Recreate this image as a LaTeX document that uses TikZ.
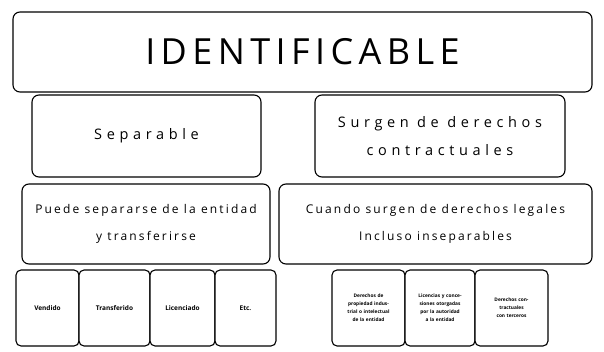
\documentclass[tikz,border=0pt]{standalone}
\usepackage{fontspec}
\setmainfont{Open Sans}
\newfontfamily\spacedtitle[LetterSpace=15]{Open Sans}
\newfontfamily\spacedmid[LetterSpace=32]{Open Sans}
\newfontfamily\spacedlow[LetterSpace=18]{Open Sans}
\begin{document}
\begin{tikzpicture}[x=1pt,y=-1pt,
  card/.style={draw=black, line width=1.1pt, rounded corners=7pt, fill=white,
    align=center, inner sep=2pt, text=black},
  title/.style={card, font=\spacedtitle\fontsize{36}{40}\selectfont},
  mid/.style={card, font=\spacedmid\fontsize{14.5}{28}\selectfont},
  low/.style={card, font=\spacedlow\fontsize{12}{27}\selectfont},
  leaf/.style={card, font=\bfseries\fontsize{6.5}{7.5}\selectfont, rounded corners=5pt,
    minimum height=76pt},
  tiny/.style={card, font=\bfseries\fontsize{4.8}{8}\selectfont, rounded corners=5pt,
    text width=46pt, minimum height=76pt}]
\useasboundingbox (0,0) rectangle (604,352);
\fill[white] (0,0) rectangle (604,352);

% top level
\node[title, minimum width=579pt, minimum height=80pt] (ident) at (302.5,52) {IDENTIFICABLE};

% criteria
\node[mid, minimum width=229pt, minimum height=82pt] (sep) at (146.5,136) {Separable};
\node[mid, minimum width=250pt, minimum height=82pt] (der) at (440,136)
  {Surgen de derechos\\contractuales};

% details
\node[low, minimum width=248pt, minimum height=80pt] (puede) at (146,224)
  {Puede separarse de la entidad\\y transferirse};
\node[low, minimum width=313pt, minimum height=80pt] (legal) at (435.5,224)
  {Cuando surgen de derechos legales\\Incluso inseparables};

% ways of separation
\node[leaf, minimum width=63pt] (vend) at (47.5,308) {Vendido};
\node[leaf, minimum width=71pt] (trans) at (114.5,308) {Transferido};
\node[leaf, minimum width=65pt] (lic) at (182.5,308) {Licenciado};
\node[leaf, minimum width=61pt] (etc) at (245.5,308) {Etc.};

% legal rights
\node[tiny, minimum width=73pt] (r1) at (368.5,308)
  {Derechos de propiedad industrial o intelectual de la entidad};
\node[tiny, minimum width=70pt] (r2) at (440,308)
  {Licencias y concesiones otorgadas por la autoridad a la entidad};
\node[tiny, minimum width=73pt] (r3) at (511.5,308)
  {Derechos contractuales con terceros};
\end{tikzpicture}
\end{document}
